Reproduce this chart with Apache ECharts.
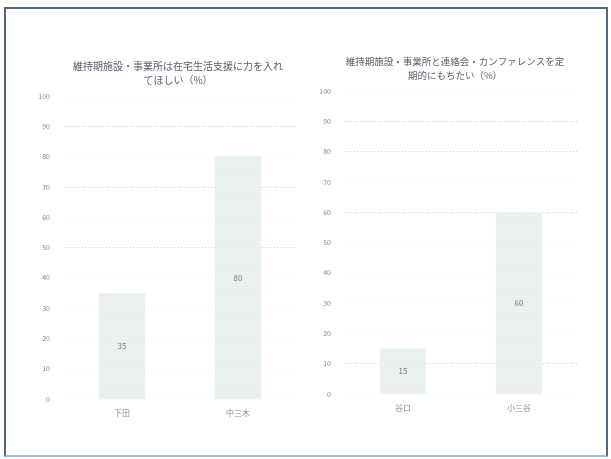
<!DOCTYPE html>
<html>
<head>
<meta charset="utf-8">
<script src="https://cdn.jsdelivr.net/npm/echarts@6/dist/echarts.min.js"></script>
<style>
  html, body { margin: 0; padding: 0; background: #fff; }
  #frame { position: absolute; left: 4px; top: 7px; width: 600px; height: 446px;
           border: 2px solid #56677a; border-bottom-color: #9fc3d6; }
  #chart { position: absolute; left: 0; top: 0; width: 611px; height: 459px; }
</style>
</head>
<body>
<div id="frame"></div>
<div id="chart"></div>
<script>
// Survey results: two small bar panels (percent)
const titleLeft = '維持期施設・事業所は在宅生活支援に力を入れ\nてほしい（%）';
const titleRight = '維持期施設・事業所と連絡会・カンファレンスを定\n期的にもちたい（%）';
const categoriesLeft = ['下田', '中三木'];
const valuesLeft = [35, 80];
const categoriesRight = ['谷口', '小三谷'];
const valuesRight = [15, 60];
const yTicks = [0, 10, 20, 30, 40, 50, 60, 70, 80, 90, 100];
// gridlines drawn darker in each panel
const strongLinesLeft = [50, 70, 90];
const strongLinesRight = [10, 60, 80, 90];

const faint = '#f3f3f3';
const strong = '#cfcfcf';
function lineColors(strongSet) {
  return yTicks.map(v => strongSet.includes(v) ? strong : faint);
}

const chart = echarts.init(document.getElementById('chart'));
const font = "'Noto Sans CJK JP', 'Noto Sans', sans-serif";

function yAxis(gridIndex, strongSet) {
  return {
    type: 'value', gridIndex, min: 0, max: 100, interval: 10,
    axisLine: { show: false }, axisTick: { show: false },
    axisLabel: { color: '#8a8a8a', fontSize: 7, fontFamily: font, margin: 14 },
    splitLine: { show: true, lineStyle: { type: [1, 2], width: 1, color: lineColors(strongSet) } }
  };
}
function xAxis(gridIndex, cats) {
  return {
    type: 'category', gridIndex, data: cats,
    axisLine: { show: false }, axisTick: { show: false },
    axisLabel: { color: '#8a8a8a', fontSize: 8, fontFamily: font, margin: 10 }
  };
}
function bars(idx, values) {
  return {
    type: 'bar', xAxisIndex: idx, yAxisIndex: idx, data: values, barWidth: '40%',
    itemStyle: {
      color: '#edf3f3',
      decal: { symbol: 'circle', symbolSize: 0.5, dashArrayX: [2, 0], dashArrayY: [2, 1], color: 'rgba(190,205,205,0.45)' }
    },
    label: { show: true, position: 'inside', color: '#6f7a7a', fontSize: 8, fontFamily: font }
  };
}

chart.setOption({
  animation: false,
  title: [
    { text: titleLeft, left: 173, top: 54, textAlign: 'center',
      textStyle: { fontSize: 10, fontWeight: 'normal', color: '#55626b', fontFamily: font, lineHeight: 14 } },
    { text: titleRight, left: 450, top: 49, textAlign: 'center',
      textStyle: { fontSize: 9.5, fontWeight: 'normal', color: '#55626b', fontFamily: font, lineHeight: 14 } }
  ],
  grid: [
    { left: 64, width: 232, top: 96, height: 303 },
    { left: 345, width: 232, top: 91, height: 303 }
  ],
  xAxis: [xAxis(0, categoriesLeft), xAxis(1, categoriesRight)],
  yAxis: [yAxis(0, strongLinesLeft), yAxis(1, strongLinesRight)],
  series: [bars(0, valuesLeft), bars(1, valuesRight)]
});
</script>
</body>
</html>
